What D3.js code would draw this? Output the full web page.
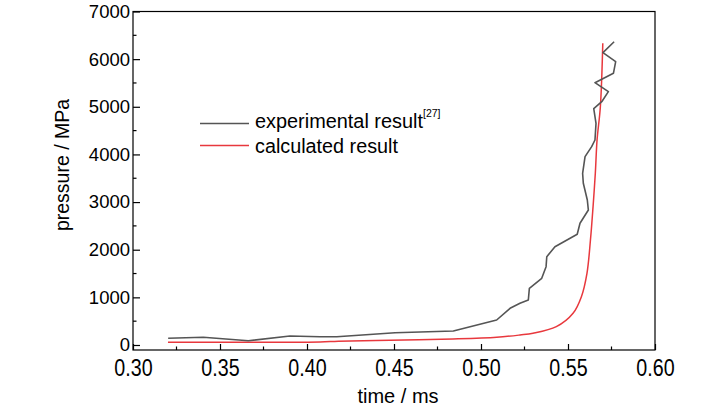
<!DOCTYPE html>
<html>
<head>
<meta charset="utf-8">
<script src="https://cdn.jsdelivr.net/npm/d3@7"></script>
<style>
  body { margin: 0; background: #fff; }
  svg { display: block; font-family: "Liberation Sans", Arial, Helvetica, sans-serif; }
</style>
</head>
<body>
<svg id="chart" width="728" height="407"></svg>
<script>
// experimental curve
let expTime = [0.3202, 0.3404, 0.3663, 0.3902, 0.4075, 0.4171, 0.4506, 0.4841, 0.5090, 0.5167,
               0.5224, 0.5272, 0.5278, 0.5349, 0.5374, 0.5378, 0.5425, 0.5553, 0.5569, 0.5617,
               0.5611, 0.5588, 0.5584, 0.5598, 0.5636, 0.5655, 0.5661, 0.5648, 0.5694, 0.5732,
               0.5655, 0.5761, 0.5774, 0.5701, 0.5765]
let expPressure = [141, 162, 90, 189, 174, 174, 258, 294, 525, 770,
                   875, 945, 1190, 1400, 1644, 1853, 2063, 2324, 2555, 2834,
                   3044, 3394, 3604, 3953, 4163, 4303, 4654, 4960, 5107, 5317,
                   5506, 5703, 5947, 6136, 6366]

// calculated curve
let calcTime = [0.3201, 0.3600, 0.4075, 0.4180, 0.4477, 0.4839, 0.5090, 0.5224, 0.5299, 0.5433,
                0.5529, 0.5577, 0.5609, 0.5629, 0.5644, 0.5657, 0.5667, 0.5686, 0.5700]
let calcPressure = [57, 58, 63, 78, 99, 126, 162, 210, 246, 384,
                    665, 1014, 1505, 2204, 2903, 3604, 4303, 5000, 6333]

let xTicks = [0.30, 0.35, 0.40, 0.45, 0.50, 0.55, 0.60]
let yTicks = [0, 1000, 2000, 3000, 4000, 5000, 6000, 7000]

let legendLabels = ['experimental result', 'calculated result']
let colors = ['#555555', '#e8383d']

let svg = d3.select('#chart')

let x = d3.scaleLinear().domain([0.30, 0.60]).range([133, 655])
let y = d3.scaleLinear().domain([-105, 7000]).range([350, 11.5])

// frame
svg.append('rect')
    .attr('x', 133).attr('y', 11.5)
    .attr('width', 522).attr('height', 338.5)
    .attr('fill', 'none').attr('stroke', '#000').attr('stroke-width', 1.2)

// minor ticks
let xMinor = d3.range(0.325, 0.6, 0.05)
let yMinor = d3.range(500, 7000, 1000)
svg.selectAll('.xminor').data(xMinor).enter().append('line')
    .attr('x1', d => x(d)).attr('x2', d => x(d))
    .attr('y1', 350).attr('y2', 346.5)
    .attr('stroke', '#000').attr('stroke-width', 1.2)
svg.selectAll('.yminor').data(yMinor).enter().append('line')
    .attr('x1', 133).attr('x2', 136.5)
    .attr('y1', d => y(d)).attr('y2', d => y(d))
    .attr('stroke', '#000').attr('stroke-width', 1.2)

// x axis
let xAxis = svg.append('g')
    .attr('transform', 'translate(0,350)')
    .call(d3.axisBottom(x).tickValues(xTicks).tickFormat(d3.format('.2f'))
        .tickSizeInner(-6).tickSizeOuter(0).tickPadding(0))
xAxis.select('.domain').remove()
xAxis.selectAll('line').attr('stroke-width', 1.2)
xAxis.selectAll('text')
    .attr('dy', null).attr('y', 26)
    .attr('font-size', 24).attr('fill', '#000')
    .attr('transform', 'scale(0.82,1)')
    .attr('font-family', '"Liberation Sans", Arial, sans-serif')

// y axis
let yAxis = svg.append('g')
    .attr('transform', 'translate(133,0)')
    .call(d3.axisLeft(y).tickValues(yTicks).tickFormat(d3.format('d'))
        .tickSizeInner(-7).tickSizeOuter(0).tickPadding(3))
yAxis.select('.domain').remove()
yAxis.selectAll('line').attr('stroke-width', 1.2)
yAxis.selectAll('text')
    .attr('x', -3)
    .attr('font-size', 18.5).attr('fill', '#000')
    .attr('font-family', '"Liberation Sans", Arial, sans-serif')

// axis titles
svg.append('text')
    .attr('x', 398).attr('y', 403)
    .attr('text-anchor', 'middle')
    .attr('font-size', 20)
    .text('time / ms')

svg.append('text')
    .attr('transform', 'translate(69,165) rotate(-90)')
    .attr('text-anchor', 'middle')
    .attr('font-size', 19.5)
    .text('pressure / MPa')

// curves
let expData = expTime.map((t, i) => [t, expPressure[i]])
let calcData = calcTime.map((t, i) => [t, calcPressure[i]])

svg.append('path')
    .datum(calcData)
    .attr('d', d3.line().x(d => x(d[0])).y(d => y(d[1])).curve(d3.curveCatmullRom.alpha(0.5)))
    .attr('fill', 'none').attr('stroke', colors[1]).attr('stroke-width', 1.5)

svg.append('path')
    .datum(expData)
    .attr('d', d3.line().x(d => x(d[0])).y(d => y(d[1])))
    .attr('fill', 'none').attr('stroke', colors[0]).attr('stroke-width', 1.6)
    .attr('stroke-linejoin', 'round')

// legend
let legendY = [123.5, 145.5]
let legendWidths = [168, 143]
legendLabels.forEach((label, i) => {
    svg.append('line')
        .attr('x1', 200).attr('x2', 249)
        .attr('y1', legendY[i]).attr('y2', legendY[i])
        .attr('stroke', colors[i]).attr('stroke-width', 1.5)
    svg.append('text')
        .attr('x', 255).attr('y', legendY[i] + 4.5 + (i === 0 ? 0 : 3))
        .attr('font-size', 19.5)
        .attr('textLength', legendWidths[i])
        .attr('lengthAdjust', 'spacingAndGlyphs')
        .text(label)
})
svg.append('text')
    .attr('x', 423).attr('y', 117)
    .attr('font-size', 10.5)
    .text('[27]')
</script>
</body>
</html>
